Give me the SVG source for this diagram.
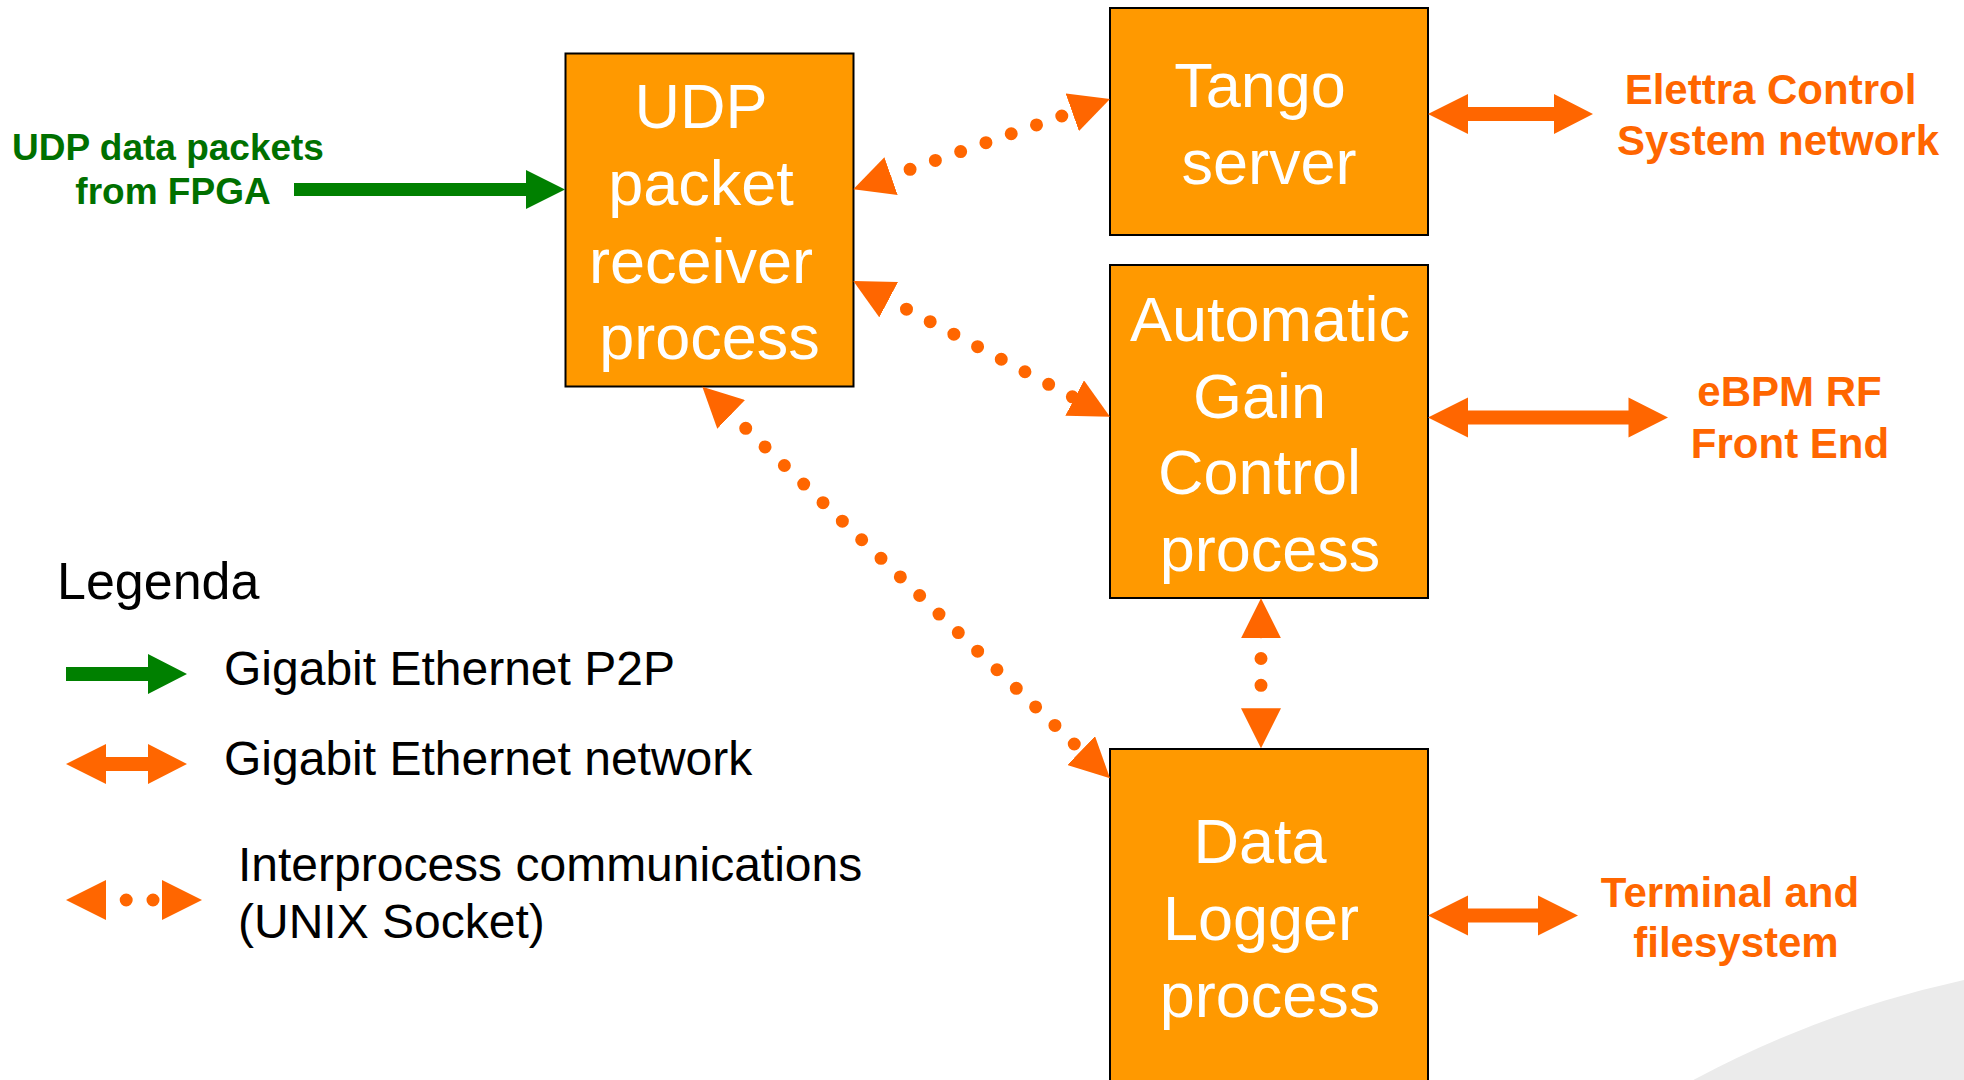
<svg xmlns="http://www.w3.org/2000/svg" width="1964" height="1080" viewBox="0 0 1964 1080">
  <defs>
    <style>
      .box { fill: #FF9900; stroke: #000000; stroke-width: 2; }
      .btxt { font-family: "Liberation Sans", Arial, sans-serif; font-size: 63px; fill: #FFFFFF; text-anchor: middle; }
      .olbl { font-family: "Liberation Sans", Arial, sans-serif; font-size: 42px; font-weight: bold; fill: #FF6600; text-anchor: middle; }
      .glbl { font-family: "Liberation Sans", Arial, sans-serif; font-size: 37px; font-weight: bold; fill: #007000; text-anchor: middle; }
      .leg { font-family: "Liberation Sans", Arial, sans-serif; font-size: 48px; fill: #000000; }
      .net { fill: #FF6600; }
      .p2p { fill: #008000; }
      .dots { fill: none; stroke: #FF6600; stroke-width: 13; stroke-linecap: round; stroke-dasharray: 0 26.8; }
      .heads { fill: none; stroke: none; marker-start: url(#tri); marker-end: url(#tri); }
    </style>
    <marker id="tri" viewBox="0 0 40 40" refX="40" refY="20" markerWidth="40" markerHeight="40" markerUnits="userSpaceOnUse" orient="auto-start-reverse">
      <path d="M0,0 L40,20 L0,40 Z" fill="#FF6600"/>
    </marker>
  </defs>

  <rect x="0" y="0" width="1964" height="1080" fill="#FFFFFF"/>
  <circle cx="2186" cy="1996" r="1040" fill="#EBEBEB"/>

  <g id="udp-receiver">
    <rect class="box" x="565.5" y="53.5" width="288" height="333"/>
    <text class="btxt" x="701" y="128">UDP</text>
    <text class="btxt" x="701" y="205">packet</text>
    <text class="btxt" x="701" y="283">receiver</text>
    <text class="btxt" x="709.5" y="359">process</text>
  </g>

  <g id="tango-server">
    <rect class="box" x="1110" y="8" width="318" height="227"/>
    <text class="btxt" x="1260" y="107">Tango</text>
    <text class="btxt" x="1269" y="184">server</text>
  </g>

  <g id="agc-process">
    <rect class="box" x="1110" y="265" width="318" height="333"/>
    <text class="btxt" x="1270" y="341">Automatic</text>
    <text class="btxt" x="1259.5" y="418">Gain</text>
    <text class="btxt" x="1259.5" y="494">Control</text>
    <text class="btxt" x="1270" y="571">process</text>
  </g>

  <g id="data-logger">
    <rect class="box" x="1110" y="749" width="318" height="345"/>
    <text class="btxt" x="1260" y="863">Data</text>
    <text class="btxt" x="1261" y="940">Logger</text>
    <text class="btxt" x="1270" y="1017">process</text>
  </g>

  <g id="fpga-source">
    <text class="glbl" x="168" y="160">UDP data packets</text>
    <text class="glbl" x="173" y="204">from FPGA</text>
  </g>

  <g id="elettra-network">
    <text class="olbl" x="1770.5" y="104">Elettra Control</text>
    <text class="olbl" x="1778" y="155">System network</text>
  </g>

  <g id="ebpm-frontend">
    <text class="olbl" x="1789.5" y="406">eBPM RF</text>
    <text class="olbl" x="1790" y="458">Front End</text>
  </g>

  <g id="terminal-fs">
    <text class="olbl" x="1730" y="907">Terminal and</text>
    <text class="olbl" x="1736" y="957">filesystem</text>
  </g>

  <g id="connectors">
    <polygon class="p2p" points="294,183 526,183 526,170 565,189.5 526,209 526,196 294,196"/>
    <polygon class="net" points="1428,114 1468,94 1468,107 1554,107 1554,94 1593,114 1554,134 1554,121 1468,121 1468,134"/>
    <polygon class="net" points="1428,417.5 1468,397.5 1468,410.5 1628.5,410.5 1628.5,397.5 1668,417.5 1628.5,437.5 1628.5,424.5 1468,424.5 1468,437.5"/>
    <polygon class="net" points="1428,915.5 1468,895.5 1468,908.5 1538,908.5 1538,895.5 1578,915.5 1538,935.5 1538,922.5 1468,922.5 1468,935.5"/>
    <g id="ipc-udp-tango">
      <path class="dots" d="M884.8,178.2 L1087.1,107.1"/>
      <path class="heads" d="M853.3,189.3 L1110,99"/>
    </g>
    <g id="ipc-udp-agc">
      <path class="dots" d="M882.8,296.6 L1072.5,396.9"/>
      <path class="heads" d="M853.3,281 L1110,416.7"/>
    </g>
    <g id="ipc-udp-logger">
      <path class="dots" d="M726.4,409.8 L1093.6,762.6"/>
      <path class="heads" d="M702.3,386.7 L1110,778.3"/>
    </g>
    <g id="ipc-agc-logger">
      <path class="dots" d="M1261,631.7 L1261,712.1"/>
      <path class="heads" d="M1261,598.3 L1261,748.3"/>
    </g>
  </g>

  <g id="legend">
    <text class="leg" x="57" y="599" style="font-size:52px">Legenda</text>
    <polygon class="p2p" points="66,667 148,667 148,654 187,674 148,694 148,681 66,681"/>
    <text class="leg" x="224" y="685">Gigabit Ethernet P2P</text>
    <polygon class="net" points="66,764 106,744 106,757 148,757 148,744 187,764 148,784 148,771 106,771 106,784"/>
    <text class="leg" x="224" y="775">Gigabit Ethernet network</text>
    <path class="dots" d="M99.4,900 L179.8,900"/>
    <path class="heads" d="M66,900 L202,900"/>
    <text class="leg" x="238" y="881">Interprocess communications</text>
    <text class="leg" x="238" y="938">(UNIX Socket)</text>
  </g>
</svg>
